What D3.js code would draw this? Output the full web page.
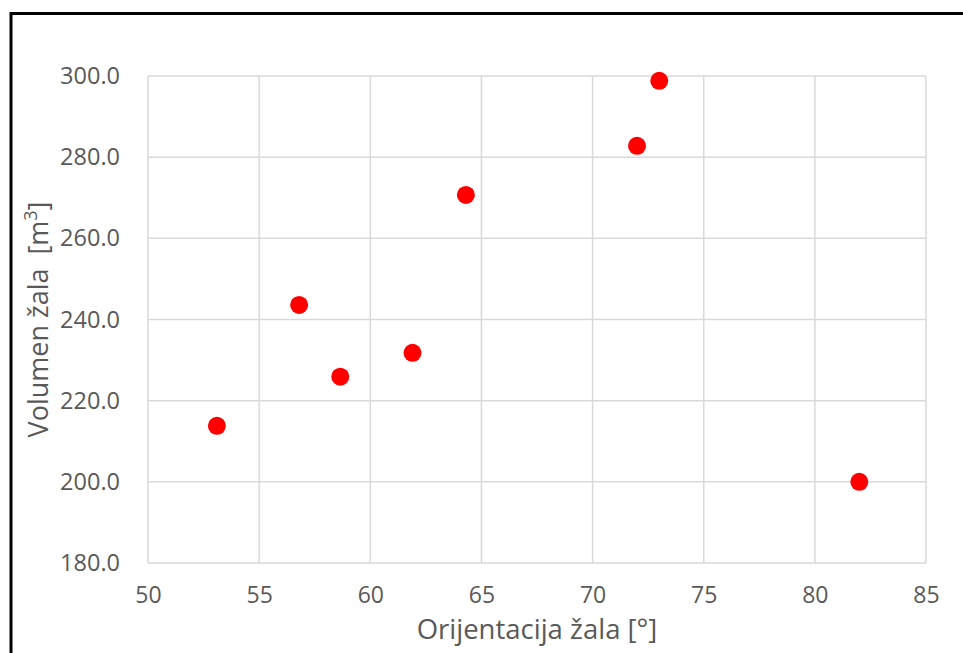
<!DOCTYPE html>
<html><head><meta charset="utf-8">
<script src="https://cdn.jsdelivr.net/npm/d3@7"></script>
<style>body{margin:0;background:#fff}svg{display:block}</style>
</head><body>
<script>
const orientation = [53.1, 56.8, 58.65, 61.9, 64.3, 72.0, 73.0, 82.0];
const volume = [213.8, 243.6, 225.9, 231.8, 270.7, 282.8, 298.8, 200.0];
const xTicks = [50, 55, 60, 65, 70, 75, 80, 85];
const yTicks = [180, 200, 220, 240, 260, 280, 300];
const xTitle = "Orijentacija žala [°]";
const yTitle = "Volumen žala  [m";

const W = 963, H = 653;
const svg = d3.select("body").append("svg").attr("width", W).attr("height", H);
const font = "'Open Sans', sans-serif";
const txt = "#595959", grid = "#d9d9d9";

svg.append("rect").attr("x", 11).attr("y", 13.5).attr("width", 1000).attr("height", 700)
  .attr("fill", "none").attr("stroke", "#000").attr("stroke-width", 3);

const x = d3.scaleLinear().domain([50, 85]).range([148, 926]);
const y = d3.scaleLinear().domain([180, 300]).range([563, 76]);

const g = svg.append("g");
g.selectAll("line.vx").data(xTicks).join("line")
  .attr("x1", d => x(d)).attr("x2", d => x(d)).attr("y1", y(300)).attr("y2", y(180))
  .attr("stroke", grid).attr("stroke-width", 1.5);
g.selectAll("line.hy").data(yTicks).join("line")
  .attr("y1", d => y(d)).attr("y2", d => y(d)).attr("x1", x(50)).attr("x2", x(85))
  .attr("stroke", grid).attr("stroke-width", 1.5);

const xAxis = svg.append("g").attr("transform", `translate(0,${y(180)})`)
  .call(d3.axisBottom(x).tickValues(xTicks).tickSize(0).tickPadding(24).tickFormat(d3.format("d")));
xAxis.select(".domain").remove();
xAxis.selectAll("text").attr("fill", txt).style("font-family", font).style("font-size", "23px");

const yAxis = svg.append("g").attr("transform", `translate(120,0)`)
  .call(d3.axisLeft(y).tickValues(yTicks).tickSize(0).tickPadding(0).tickFormat(d3.format(".1f")));
yAxis.select(".domain").remove();
yAxis.selectAll("text").attr("fill", txt).style("font-family", font).style("font-size", "23.5px");

svg.append("text").attr("x", (x(50) + x(85)) / 2).attr("y", 639)
  .attr("text-anchor", "middle").attr("fill", txt)
  .style("font-family", font).style("font-size", "27.5px").text(xTitle);

const yt = svg.append("text").attr("transform", `translate(48,${(y(180) + y(300)) / 2}) rotate(-90)`)
  .attr("text-anchor", "middle").attr("fill", txt).style("white-space", "pre")
  .style("font-family", font).style("font-size", "27px");
yt.append("tspan").text(yTitle);
yt.append("tspan").attr("dy", -11).style("font-size", "18px").text("3");
yt.append("tspan").attr("dy", 11).text("]");

svg.selectAll("circle").data(orientation).join("circle")
  .attr("cx", d => x(d)).attr("cy", (d, i) => y(volume[i])).attr("r", 9).attr("fill", "#ff0000");
</script>
</body></html>
